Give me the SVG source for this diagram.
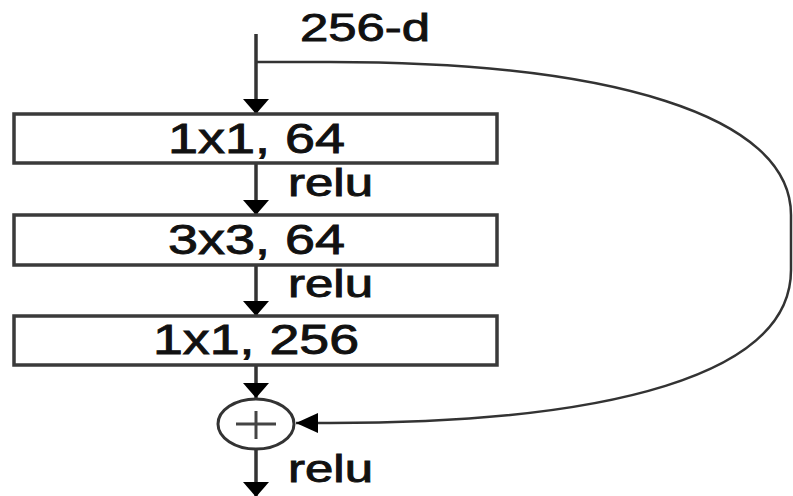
<svg xmlns="http://www.w3.org/2000/svg" width="793" height="496" viewBox="0 0 793 496">
<style>
.box{fill:#fff;stroke:#3a3a3a;stroke-width:3.5}
.lbl{font-family:"Liberation Sans",Arial,sans-serif;fill:#111;stroke:#111;stroke-width:0.9}
.conn{fill:none;stroke:#333;stroke-width:3.5}
.skip{fill:none;stroke:#333;stroke-width:2.5}
</style>
<defs>
<marker id="ah" markerUnits="userSpaceOnUse" viewBox="0 0 15 26" refX="15" refY="13" markerWidth="15" markerHeight="26" orient="auto">
<path d="M0,0 L15,13 L0,26 Z" fill="#000"/>
</marker>
<marker id="ah2" markerUnits="userSpaceOnUse" viewBox="0 0 22 20" refX="22" refY="10" markerWidth="22" markerHeight="20" orient="auto">
<path d="M0,0 L22,10 L0,20 Z" fill="#000"/>
</marker>
</defs>
<rect width="793" height="496" fill="#fff"/>
<g id="connectors">
<line class="conn" x1="256" y1="34" x2="256" y2="114" marker-end="url(#ah)"/>
<line class="conn" x1="256" y1="163" x2="256" y2="215" marker-end="url(#ah)"/>
<line class="conn" x1="256" y1="265" x2="256" y2="316" marker-end="url(#ah)"/>
<line class="conn" x1="256" y1="365" x2="256" y2="398" marker-end="url(#ah)"/>
<line class="conn" x1="256" y1="449" x2="256" y2="497" marker-end="url(#ah)"/>
<path class="skip" d="M256,62 H330 C610,62 791,115 791,215 V270 C791,375 610,423 330,423 H296" marker-end="url(#ah2)"/>
</g>
<g id="input-label"><text class="lbl" x="300" y="41" font-size="39" textLength="130" lengthAdjust="spacingAndGlyphs">256-d</text></g>
<g id="conv1">
<rect class="box" x="14" y="114" width="483" height="49"/>
<text class="lbl" x="168" y="153" font-size="42" textLength="177" lengthAdjust="spacingAndGlyphs">1x1, 64</text>
</g>
<g id="relu1"><text class="lbl" x="288" y="196" font-size="38" textLength="85" lengthAdjust="spacingAndGlyphs">relu</text></g>
<g id="conv2">
<rect class="box" x="14" y="215" width="483" height="50"/>
<text class="lbl" x="168" y="254" font-size="42" textLength="177" lengthAdjust="spacingAndGlyphs">3x3, 64</text>
</g>
<g id="relu2"><text class="lbl" x="288" y="297" font-size="38" textLength="85" lengthAdjust="spacingAndGlyphs">relu</text></g>
<g id="conv3">
<rect class="box" x="14" y="316" width="483" height="49"/>
<text class="lbl" x="153" y="354" font-size="42" textLength="206" lengthAdjust="spacingAndGlyphs">1x1, 256</text>
</g>
<g id="add">
<ellipse cx="256" cy="424" rx="38" ry="25" fill="#fff" stroke="#333" stroke-width="3"/>
<path d="M236,424 H276 M256,411 V439" stroke="#444" stroke-width="3" fill="none"/>
</g>
<g id="relu3"><text class="lbl" x="288" y="482" font-size="38" textLength="85" lengthAdjust="spacingAndGlyphs">relu</text></g>
</svg>
